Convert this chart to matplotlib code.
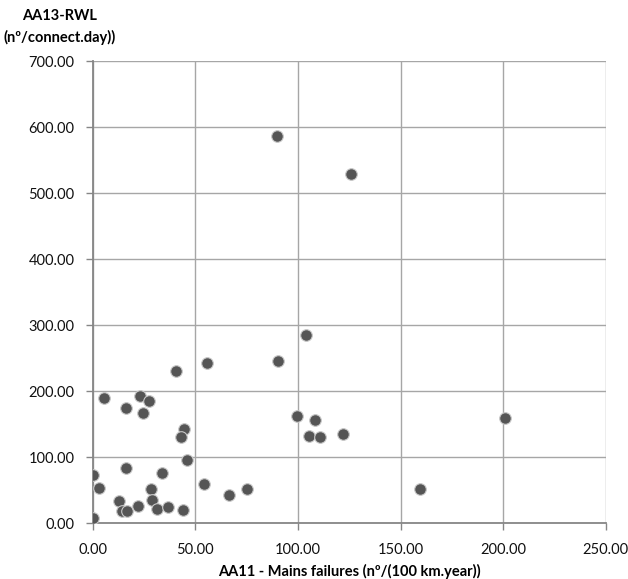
import matplotlib
matplotlib.use("Agg")
import matplotlib.pyplot as plt
from matplotlib.ticker import FormatStrFormatter

# Data: AA11 mains failures vs AA13 RWL
x_vals = [89.7, 125.7, 103.8, 90.2, 55.5, 40.4, 5.5, 23.2, 27.3, 16.1, 24.4,
          44.7, 43.0, 46.1, 16.1, 33.6, 0.0, 3.3, 28.3, 54.1, 66.6, 75.2,
          13.0, 28.7, 14.4, 16.9, 21.9, 31.5, 36.5, 44.0, 0.0,
          99.4, 108.5, 105.3, 110.6, 121.8, 201.1, 159.4]
y_vals = [587, 529, 285.6, 246, 242.7, 231, 190, 193, 186, 175, 168,
          143.6, 131, 96, 84, 77, 73, 54, 52, 60, 43, 52,
          34.6, 35, 19.4, 19.4, 27, 22, 25.5, 21, 9,
          163, 157, 132.6, 131.5, 135.6, 160.3, 52.7]

x_ticks = [0, 50, 100, 150, 200, 250]
y_ticks = [0, 100, 200, 300, 400, 500, 600, 700]
x_label = "AA11 - Mains failures (nº/(100 km.year))"
y_label_lines = ["AA13-RWL", "(nº/connect.day))"]

plt.rcParams['font.family'] = ['Lato', 'DejaVu Sans']

fig = plt.figure(figsize=(6.28, 5.79), dpi=100)
ax = fig.add_axes([0.1476, 0.0959, 0.9645 - 0.1476, 0.8938 - 0.0959])

ax.scatter(x_vals, y_vals, s=70, color='#555555', edgecolors='#c8c8c8',
           linewidths=0.8, zorder=3)

ax.set_xlim(0, 250)
ax.set_ylim(0, 700)
ax.set_xticks(x_ticks)
ax.set_yticks(y_ticks)
ax.xaxis.set_major_formatter(FormatStrFormatter('%.2f'))
ax.yaxis.set_major_formatter(FormatStrFormatter('%.2f'))

ax.grid(True, color='#a6a6a6', linewidth=1.0, zorder=0)
ax.set_axisbelow(True)
for side in ['top', 'right']:
    ax.spines[side].set_visible(False)
for side in ['left', 'bottom']:
    ax.spines[side].set_color('#868686')
    ax.spines[side].set_linewidth(1.3)
ax.tick_params(axis='both', direction='out', length=5, width=1.0,
               color='#868686', labelsize=10.5, labelcolor='#111111')
ax.tick_params(axis='x', pad=9)
ax.tick_params(axis='y', pad=8)

ax.set_xlabel(x_label, fontsize=10.5, fontweight='bold', labelpad=5)
for i, line in enumerate(y_label_lines):
    fig.text(60 / 628, 1 - (16 + 21 * i) / 579, line, ha='center',
             va='center', fontsize=10.5, fontweight='bold')

fig.savefig("out.png", dpi=100)
